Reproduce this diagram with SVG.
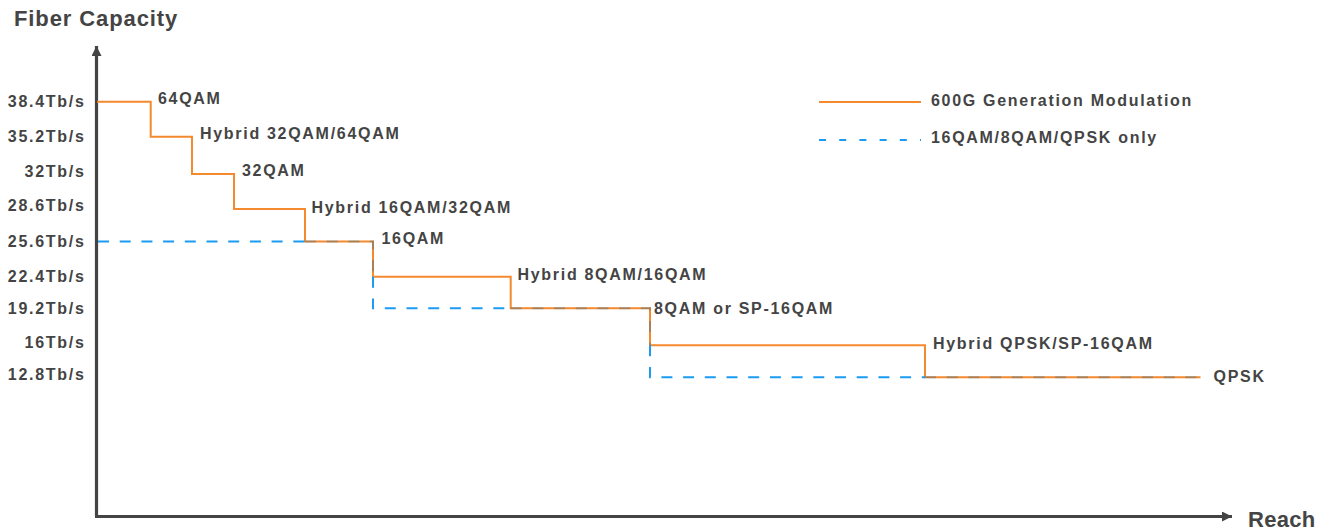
<svg xmlns="http://www.w3.org/2000/svg" width="1331" height="531" viewBox="0 0 1331 531">
<style>
.t{font-family:"Liberation Sans",Arial,sans-serif;font-weight:bold;fill:#444;}
.lbl{font-size:16px;letter-spacing:1.7px;}
.ttl{font-size:22px;letter-spacing:0.9px;}
.ax{stroke:#444;stroke-width:3.2;fill:none;}
.or{stroke:#F5892E;stroke-width:2;fill:none;}
.bl{stroke:#1B9CF2;stroke-width:2;fill:none;stroke-dasharray:11 10.7;}
.blo{stroke:#1B6CA2;stroke-width:2;fill:none;stroke-dasharray:11 10.7;opacity:0.35;}
</style>
<defs>
<marker id="ah" viewBox="0 0 10 10" refX="10" refY="5" markerWidth="10" markerHeight="10" markerUnits="userSpaceOnUse" orient="auto">
<path d="M0,0 L10,5 L0,10 Z" fill="#444"/>
</marker>
</defs>
<rect width="1331" height="531" fill="#fff"/>
<g id="axes">
<path class="ax" d="M96.5,516.5 V46" marker-end="url(#ah)"/>
<path class="ax" d="M95,516.5 H1232" marker-end="url(#ah)"/>
<text class="t ttl" x="14" y="26">Fiber Capacity</text>
<text class="t ttl" x="1248" y="527" style="letter-spacing:0.3px">Reach</text>
</g>
<g id="y-labels" class="t lbl" text-anchor="end">
<text x="85.5" y="107">38.4Tb/s</text>
<text x="85.5" y="142">35.2Tb/s</text>
<text x="85.5" y="177">32Tb/s</text>
<text x="85.5" y="211">28.6Tb/s</text>
<text x="85.5" y="247">25.6Tb/s</text>
<text x="85.5" y="282">22.4Tb/s</text>
<text x="85.5" y="314">19.2Tb/s</text>
<text x="85.5" y="348">16Tb/s</text>
<text x="85.5" y="380">12.8Tb/s</text>
</g>
<g id="connectors">
<path class="or" d="M97,101.7 H150.7 V136.7 H192 V174 H234 V209 H305 V241.5 H373 V276.7 H510.7 V308.3 H650 V345.3 H925 V377.3 H1200.5"/>
<path class="bl" d="M98,241.5 H305"/>
<path class="bl" d="M373,276.7 V308.3 H510.7"/>
<path class="bl" d="M650,345.3 V377.3 H925"/>
<path class="blo" d="M305,241.5 H373 V276.7"/>
<path class="blo" d="M510.7,308.3 H650 V345.3"/>
<path class="blo" d="M925,377.3 H1200"/>
</g>
<g id="node-64qam"><text class="t lbl" x="158" y="104">64QAM</text></g>
<g id="node-hybrid-32-64"><text class="t lbl" x="200" y="139">Hybrid 32QAM/64QAM</text></g>
<g id="node-32qam"><text class="t lbl" x="242" y="176">32QAM</text></g>
<g id="node-hybrid-16-32"><text class="t lbl" x="311.5" y="212.5">Hybrid 16QAM/32QAM</text></g>
<g id="node-16qam"><text class="t lbl" x="381.5" y="244">16QAM</text></g>
<g id="node-hybrid-8-16"><text class="t lbl" x="517.5" y="279.5">Hybrid 8QAM/16QAM</text></g>
<g id="node-8qam"><text class="t lbl" x="654" y="314">8QAM or SP-16QAM</text></g>
<g id="node-hybrid-qpsk"><text class="t lbl" x="933" y="348.5">Hybrid QPSK/SP-16QAM</text></g>
<g id="node-qpsk"><text class="t lbl" x="1213.5" y="381.5">QPSK</text></g>
<g id="legend">
<line class="or" x1="819" y1="102" x2="921" y2="102"/>
<text class="t lbl" x="931" y="105.5">600G Generation Modulation</text>
<line class="bl" x1="819" y1="140" x2="921" y2="140" style="stroke-dasharray:7 13.2"/>
<text class="t lbl" x="931" y="143">16QAM/8QAM/QPSK only</text>
</g>
</svg>
